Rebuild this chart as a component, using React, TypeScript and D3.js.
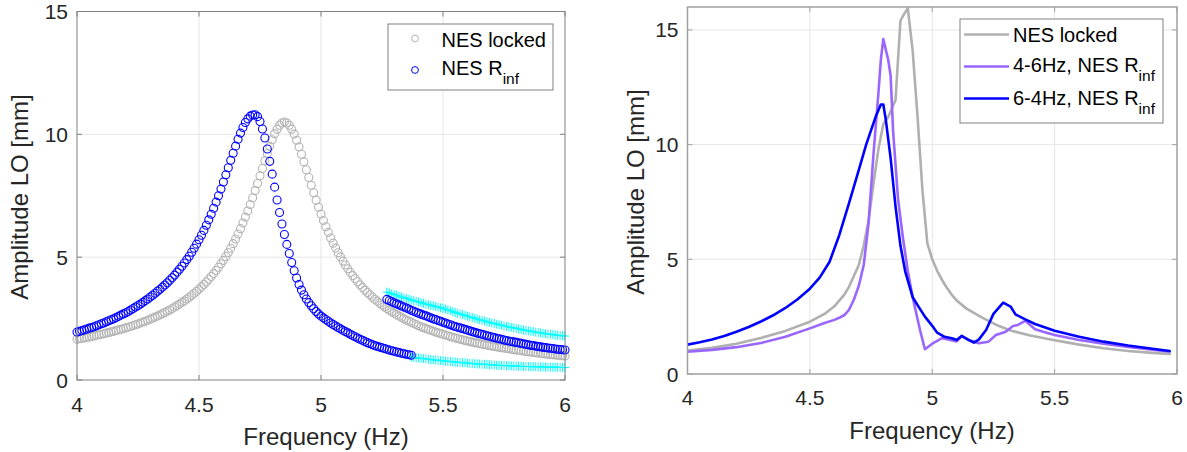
import React from 'react';
import * as d3 from 'd3';

const FONT = '"Liberation Sans", Arial, Helvetica, sans-serif';
const TXT = '#262626';

// ---------- Left panel: frequency sweeps (markers), 0.01 Hz grid ----------
const leftStart = 4.0;
const leftStep = 0.01;

// NES locked (grey circles), 4.00 .. 6.00 Hz
const lockedAmp = [
  1.66,1.68,1.69,1.71,1.73,1.75,1.77,1.79,1.82,1.84,
  1.86,1.88,1.91,1.93,1.96,1.98,2.01,2.04,2.06,2.09,
  2.12,2.15,2.18,2.22,2.25,2.28,2.32,2.36,2.39,2.43,
  2.47,2.52,2.56,2.60,2.65,2.70,2.75,2.80,2.85,2.91,
  2.97,3.03,3.09,3.16,3.22,3.30,3.37,3.45,3.53,3.61,
  3.70,3.79,3.89,3.99,4.10,4.21,4.33,4.46,4.59,4.73,
  4.87,5.03,5.19,5.36,5.55,5.74,5.94,6.16,6.39,6.63,
  6.88,7.14,7.42,7.71,8.00,8.31,8.61,8.92,9.22,9.51,
  9.78,10.02,10.21,10.37,10.46,10.50,10.46,10.37,10.21,10.01,
  9.76,9.49,9.19,8.88,8.56,8.24,7.93,7.62,7.32,7.03,
  6.76,6.49,6.24,6.01,5.78,5.57,5.37,5.18,5.01,4.84,
  4.68,4.53,4.38,4.25,4.12,4.00,3.88,3.77,3.66,3.56,
  3.47,3.38,3.29,3.21,3.13,3.05,2.98,2.91,2.84,2.78,
  2.72,2.66,2.60,2.55,2.49,2.44,2.39,2.35,2.30,2.26,
  2.21,2.17,2.13,2.09,2.06,2.02,1.99,1.95,1.92,1.89,
  1.86,1.83,1.80,1.77,1.74,1.71,1.69,1.66,1.64,1.61,
  1.59,1.57,1.54,1.52,1.50,1.48,1.46,1.44,1.42,1.40,
  1.38,1.37,1.35,1.33,1.31,1.30,1.28,1.27,1.25,1.23,
  1.22,1.21,1.19,1.18,1.16,1.15,1.14,1.12,1.11,1.10,
  1.09,1.07,1.06,1.05,1.04,1.03,1.02,1.01,1.00,0.99,
  0.98,
];

// NES R_inf, lower/resonant branch, 4.00 .. 5.37 Hz
const rinfLowerStart = 4.0;
const rinfLowerAmp = [
  1.95,1.98,2.01,2.04,2.07,2.11,2.14,2.17,2.21,2.25,
  2.29,2.32,2.37,2.41,2.45,2.49,2.54,2.59,2.64,2.69,
  2.74,2.79,2.85,2.91,2.97,3.03,3.09,3.16,3.23,3.30,
  3.38,3.45,3.53,3.61,3.69,3.78,3.87,3.96,4.06,4.16,
  4.27,4.39,4.51,4.63,4.76,4.90,5.04,5.20,5.36,5.53,
  5.71,5.89,6.09,6.30,6.52,6.75,6.99,7.24,7.50,7.77,
  8.06,8.35,8.64,8.94,9.23,9.52,9.80,10.05,10.28,10.48,
  10.63,10.74,10.79,
  10.80,10.72,10.52,10.22,9.85,9.40,8.90,8.38,7.85,7.33,
  6.82,6.35,5.92,5.52,5.15,4.78,4.45,4.15,3.89,3.66,
  3.47,3.30,3.15,3.02,2.90,2.79,2.69,
  2.60,2.53,2.46,2.39,2.32,2.26,2.20,2.14,2.08,2.02,
  1.97,1.92,1.86,1.81,1.76,1.71,1.66,1.62,1.57,1.52,
  1.48,1.44,1.40,1.37,1.34,1.31,1.28,1.25,1.22,1.19,
  1.17,1.14,1.12,1.09,1.07,1.05,1.03,1.01,
];

// NES R_inf, upper branch, 5.27 .. 6.00 Hz
const rinfUpperStart = 5.27;
const rinfUpperAmp = [
  3.28,3.23,3.19,3.14,3.10,3.06,3.01,2.97,2.93,2.89,
  2.84,2.80,2.76,2.72,2.68,2.64,2.61,2.57,2.53,2.49,
  2.46,2.42,2.39,2.35,2.32,2.28,2.25,2.21,2.18,2.15,
  2.12,2.09,2.06,2.03,2.00,1.97,1.94,1.91,1.88,1.86,
  1.83,1.80,1.78,1.75,1.73,1.70,1.68,1.66,1.63,1.61,
  1.59,1.57,1.55,1.53,1.51,1.49,1.47,1.45,1.43,1.41,
  1.40,1.38,1.36,1.35,1.33,1.32,1.30,1.29,1.28,1.26,
  1.25,1.24,1.23,1.22,
];

// cyan '+' markers (not in legend): upper from 5.27 Hz, lower from 5.37 Hz
const cyanUpperStart = 5.27;
const cyanUpperAmp = [
  3.58,3.55,3.51,3.48,3.45,3.41,3.38,3.35,3.32,3.29,
  3.26,3.23,3.20,3.18,3.15,3.12,3.09,3.07,3.04,3.02,
  2.99,2.97,2.94,2.92,2.89,2.85,2.82,2.78,2.75,2.72,
  2.69,2.66,2.63,2.60,2.57,2.54,2.51,2.48,2.45,2.43,
  2.40,2.37,2.35,2.32,2.30,2.27,2.25,2.23,2.20,2.18,
  2.16,2.14,2.12,2.10,2.08,2.06,2.04,2.02,2.00,1.98,
  1.97,1.95,1.93,1.92,1.90,1.89,1.87,1.86,1.85,1.83,
  1.82,1.81,1.80,1.79,
];
const cyanLowerStart = 5.37;
const cyanLowerAmp = [
  0.93,0.92,0.90,0.89,0.88,0.87,0.86,0.84,0.83,0.82,
  0.81,0.80,0.79,0.78,0.77,0.76,0.75,0.74,0.73,0.72,
  0.71,0.70,0.70,0.69,0.68,0.67,0.66,0.66,0.65,0.64,
  0.64,0.63,0.62,0.62,0.61,0.60,0.60,0.59,0.59,0.58,
  0.58,0.57,0.57,0.56,0.56,0.56,0.55,0.55,0.55,0.54,
  0.54,0.54,0.53,0.53,0.53,0.53,0.52,0.52,0.52,0.52,
  0.52,0.51,0.51,0.51,
];

// ---------- Right panel: lines ----------
const lockedLineF = [4.00,4.10,4.20,4.30,4.40,4.50,4.56,4.60,4.64,4.66,4.70,4.72,4.74,4.76,4.78,4.80,4.82,4.85,4.87,4.88,4.90,4.92,4.94,4.96,4.98,5.00,5.02,5.04,5.06,5.08,5.10,5.14,5.20,5.26,5.32,5.40,5.50,5.60,5.70,5.80,5.90,5.97];
const lockedLineA = [1.02,1.14,1.32,1.57,1.88,2.28,2.62,2.95,3.45,3.80,4.75,5.60,6.70,8.30,9.80,10.90,11.20,11.95,15.40,15.60,15.95,14.10,11.20,8.00,5.70,5.00,4.50,4.10,3.75,3.45,3.20,2.85,2.48,2.15,1.90,1.68,1.47,1.28,1.12,1.00,0.92,0.87];

const up46F = [4.00,4.10,4.20,4.30,4.40,4.50,4.56,4.60,4.62,4.64,4.66,4.68,4.70,4.72,4.74,4.76,4.78,4.79,4.80,4.82,4.83,4.84,4.86,4.88,4.90,4.92,4.95,4.97,5.00,5.04,5.06,5.10,5.12,5.15,5.19,5.23,5.26,5.30,5.33,5.35,5.38,5.42,5.45,5.50,5.60,5.70,5.80,5.90,5.97];
const up46A = [0.97,1.05,1.17,1.35,1.62,1.99,2.22,2.36,2.45,2.56,2.80,3.25,3.85,4.75,6.60,9.60,12.24,13.70,14.60,13.70,13.00,10.60,7.65,5.95,4.50,3.35,1.92,1.08,1.32,1.56,1.52,1.42,1.65,1.48,1.34,1.41,1.70,1.84,2.09,2.14,2.32,1.95,1.85,1.70,1.48,1.32,1.18,1.06,0.97];

const down64F = [4.00,4.05,4.10,4.15,4.20,4.25,4.30,4.35,4.40,4.45,4.50,4.54,4.58,4.62,4.66,4.70,4.73,4.77,4.79,4.80,4.81,4.83,4.85,4.87,4.89,4.92,4.94,4.97,5.00,5.02,5.05,5.08,5.10,5.12,5.15,5.17,5.19,5.22,5.25,5.29,5.32,5.34,5.38,5.42,5.50,5.60,5.70,5.80,5.90,5.97];
const down64A = [1.28,1.38,1.50,1.66,1.84,2.05,2.29,2.56,2.88,3.26,3.72,4.20,4.88,6.05,7.45,8.90,10.00,11.25,11.75,11.75,11.10,9.40,7.30,5.60,4.45,3.35,3.00,2.50,2.10,1.80,1.62,1.56,1.48,1.66,1.48,1.37,1.50,1.92,2.62,3.11,2.94,2.60,2.38,2.18,1.89,1.62,1.41,1.24,1.10,1.00];

const xTicks = [4, 4.5, 5, 5.5, 6];
const leftYTicks = [0, 5, 10, 15];
const rightYTicks = [0, 5, 10, 15];

const C_GREY = '#b4b4b4';
const C_BLUE = '#0000ff';
const C_CYAN = '#00ffff';
const C_PURPLE = '#9966ff';
const C_LGREY = '#b0b0b0';

function grid(start: number, n: number) {
  return d3.range(n).map((i) => +(start + i * leftStep).toFixed(2));
}

type Sc = d3.ScaleLinear<number, number>;

function Grid({ x, y, yTicks }: { x: Sc; y: Sc; yTicks: number[] }) {
  const [x0, x1] = x.range();
  const [y0, y1] = y.range();
  return (
    <g>
      {xTicks.filter((t) => t !== 4 && t !== 6).map((t) => (
        <line key={'gx' + t} x1={x(t)} x2={x(t)} y1={y0} y2={y1} stroke="#e6e6e6" strokeWidth={1} />
      ))}
      {yTicks.filter((t) => y(t) > y1 + 1 && y(t) < y0 - 1).map((t) => (
        <line key={'gy' + t} x1={x0} x2={x1} y1={y(t)} y2={y(t)} stroke="#e6e6e6" strokeWidth={1} />
      ))}
    </g>
  );
}

function Axes({ x, y, yTicks, axisColor, axisW, labelDy }: { x: Sc; y: Sc; yTicks: number[]; axisColor: string; axisW: number; labelDy: number }) {
  const [x0, x1] = x.range();
  const [y0, y1] = y.range();
  const tl = 5;
  return (
    <g>
      <rect x={x0} y={y1} width={x1 - x0} height={y0 - y1} fill="none" stroke={axisColor} strokeWidth={axisW} />
      {xTicks.map((t) => (
        <g key={'tx' + t}>
          <line x1={x(t)} x2={x(t)} y1={y0} y2={y0 - tl} stroke={axisColor} strokeWidth={1} />
          <line x1={x(t)} x2={x(t)} y1={y1} y2={y1 + tl} stroke={axisColor} strokeWidth={1} />
          <text x={x(t)} y={y0 + labelDy} textAnchor="middle" fontSize={21} fill={TXT} fontFamily={FONT}>{String(t)}</text>
        </g>
      ))}
      {yTicks.map((t) => (
        <g key={'ty' + t}>
          <line x1={x0} x2={x0 + tl} y1={y(t)} y2={y(t)} stroke={axisColor} strokeWidth={1} />
          <line x1={x1} x2={x1 - tl} y1={y(t)} y2={y(t)} stroke={axisColor} strokeWidth={1} />
          <text x={x0 - 9} y={y(t) + 7.5} textAnchor="end" fontSize={21} fill={TXT} fontFamily={FONT}>{String(t)}</text>
        </g>
      ))}
    </g>
  );
}

export default function App() {
  const lx = d3.scaleLinear().domain([4, 6]).range([77, 565]);
  const ly = d3.scaleLinear().domain([0, 15]).range([380, 11.5]);
  const rx = d3.scaleLinear().domain([4, 6]).range([687.5, 1177]);
  const ry = d3.scaleLinear().domain([0, 16]).range([374, 7]);

  const lockedF = grid(leftStart, lockedAmp.length);
  const lowerF = grid(rinfLowerStart, rinfLowerAmp.length);
  const upperF = grid(rinfUpperStart, rinfUpperAmp.length);
  const cyanUF = grid(cyanUpperStart, cyanUpperAmp.length);
  const cyanLF = grid(cyanLowerStart, cyanLowerAmp.length);

  const plus = (cx: number, cy: number) => `M${cx - 4},${cy}H${cx + 4}M${cx},${cy - 4.5}V${cy + 4.5}`;
  const line = (fs: number[]) => d3.line<number>().x((_, i) => rx(fs[i])).y((a) => ry(a));
  const R = 4;
  const SW = 1.1;

  return (
    <svg width={1187} height={452} style={{ position: 'absolute', left: 0, top: 0, background: '#fff' }} fontFamily={FONT}>
      <defs>
        <clipPath id="clipL"><rect x={77} y={11.5} width={488} height={368.5} /></clipPath>
        <clipPath id="clipR"><rect x={687.5} y={7} width={489.5} height={367} /></clipPath>
      </defs>
      <rect x={0} y={0} width={1187} height={452} fill="#fff" />

      {/* ----- Left panel ----- */}
      <Grid x={lx} y={ly} yTicks={leftYTicks} />
      <g>
        {lockedAmp.map((a, i) => (
          <circle key={'g' + i} cx={lx(lockedF[i])} cy={ly(a)} r={R} fill="none" stroke={C_GREY} strokeWidth={SW} />
        ))}
        <path d={cyanUpperAmp.map((a, i) => plus(lx(cyanUF[i]), ly(a))).join('')} stroke={C_CYAN} strokeWidth={1} fill="none" />
        <path d={cyanLowerAmp.map((a, i) => plus(lx(cyanLF[i]), ly(a))).join('')} stroke={C_CYAN} strokeWidth={1} fill="none" />
        {rinfLowerAmp.map((a, i) => (
          <circle key={'bl' + i} cx={lx(lowerF[i])} cy={ly(a)} r={R} fill="none" stroke={C_BLUE} strokeWidth={SW} />
        ))}
        {rinfUpperAmp.map((a, i) => (
          <circle key={'bu' + i} cx={lx(upperF[i])} cy={ly(a)} r={R} fill="none" stroke={C_BLUE} strokeWidth={SW} />
        ))}
      </g>
      <Axes x={lx} y={ly} yTicks={leftYTicks} axisColor="#808080" axisW={1} labelDy={31.5} />
      <text x={326} y={445} textAnchor="middle" fontSize={24} fill={TXT}>Frequency (Hz)</text>
      <text transform="translate(28,197) rotate(-90)" textAnchor="middle" fontSize={24} fill={TXT}>Amplitude LO [mm]</text>

      {/* left legend */}
      <rect x={388} y={24} width={165} height={66} fill="#fff" stroke="#808080" strokeWidth={1} />
      <circle cx={415} cy={38.5} r={3.4} fill="none" stroke={C_GREY} strokeWidth={1} />
      <text x={441.5} y={46.7} fontSize={20} fill="#000">NES locked</text>
      <circle cx={415} cy={70} r={3.4} fill="none" stroke={C_BLUE} strokeWidth={1} />
      <text x={441.5} y={75} fontSize={20} fill="#000">NES R<tspan fontSize={15.5} dy={8.5}>inf</tspan></text>

      {/* ----- Right panel ----- */}
      <Grid x={rx} y={ry} yTicks={rightYTicks} />
      <g clipPath="url(#clipR)" fill="none" strokeLinejoin="round" strokeLinecap="round">
        <path d={line(lockedLineF)(lockedLineA) || ''} stroke={C_LGREY} strokeWidth={2.6} />
        <path d={line(up46F)(up46A) || ''} stroke={C_PURPLE} strokeWidth={2.6} />
        <path d={line(down64F)(down64A) || ''} stroke={C_BLUE} strokeWidth={2.6} />
      </g>
      <Axes x={rx} y={ry} yTicks={rightYTicks} axisColor="#a0a0a0" axisW={1.5} labelDy={31} />
      <text x={932} y={439} textAnchor="middle" fontSize={24} fill={TXT}>Frequency (Hz)</text>
      <text transform="translate(644,192) rotate(-90)" textAnchor="middle" fontSize={24} fill={TXT}>Amplitude LO [mm]</text>

      {/* right legend */}
      <rect x={960} y={19} width={203} height={104} fill="#fff" stroke="#808080" strokeWidth={1} />
      <line x1={964} x2={1009} y1={34.5} y2={34.5} stroke={C_LGREY} strokeWidth={2.6} />
      <text x={1013} y={41.5} fontSize={20} fill="#000">NES locked</text>
      <line x1={964} x2={1009} y1={66.5} y2={66.5} stroke={C_PURPLE} strokeWidth={2.6} />
      <text x={1013} y={72} fontSize={20} fill="#000">4-6Hz, NES R<tspan fontSize={15.5} dy={8.5}>inf</tspan></text>
      <line x1={964} x2={1009} y1={98.5} y2={98.5} stroke={C_BLUE} strokeWidth={2.6} />
      <text x={1013} y={105} fontSize={20} fill="#000">6-4Hz, NES R<tspan fontSize={15.5} dy={8.5}>inf</tspan></text>
    </svg>
  );
}
